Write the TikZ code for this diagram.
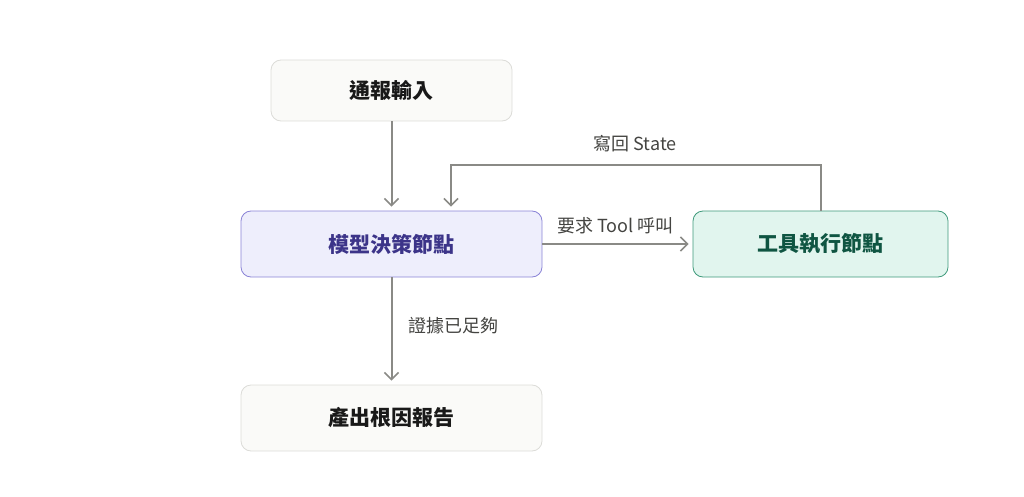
\documentclass[tikz,border=0pt]{standalone}
\usepackage{fontspec}
\setmainfont{Noto Sans CJK TC}
\usetikzlibrary{arrows.meta}
\definecolor{boxgray}{HTML}{FAFAF8}
\definecolor{linegray}{HTML}{DCDCD8}
\definecolor{modelfill}{HTML}{EEEEFC}
\definecolor{modelline}{HTML}{8A83D6}
\definecolor{modeltext}{HTML}{3C3489}
\definecolor{toolfill}{HTML}{E1F5EE}
\definecolor{toolline}{HTML}{3F9A7B}
\definecolor{tooltext}{HTML}{0F5542}
\definecolor{arrowgray}{HTML}{8A8A86}
\definecolor{labelgray}{HTML}{444441}
\tikzset{
 box/.style={draw=linegray,fill=boxgray,rounded corners=10pt,line width=0.8pt,
  minimum height=61pt,font=\fontsize{21}{24}\selectfont\bfseries,text=black!90},
 flow/.style={draw=arrowgray,line width=2pt,shorten >=4pt,
  -{Straight Barb[length=7pt,width=14pt,line width=1.6pt]}},
 lbl/.style={font=\fontsize{18}{21}\selectfont,text=labelgray}
}
\begin{document}
\begin{tikzpicture}[x=1pt,y=-1pt]
% khung ảnh
\useasboundingbox (0,0) rectangle (1024,497);
% các nút
\node[box,minimum width=241pt] (input) at (391.5,90.5) {通報輸入};
\node[box,minimum width=301pt,minimum height=66pt,draw=modelline,fill=modelfill,text=modeltext] (model) at (391.5,244) {模型決策節點};
\node[box,minimum width=255pt,minimum height=66pt,draw=toolline,fill=toolfill,text=tooltext] (tool) at (820.5,244) {工具執行節點};
\node[box,minimum width=301pt,minimum height=66pt] (report) at (391.5,418) {產出根因報告};
% các mũi tên
\draw[flow] (input) -- (model);
\draw[flow] (model) -- node[lbl,above=6pt,xshift=-2pt]{要求 Tool 呼叫} (tool);
\draw[flow,rounded corners=0pt] (tool.north) -- ++(0,-46) coordinate (back)
 -| ([xshift=59.5pt]model.north);
\node[lbl] (backlbl) at (635,144) {寫回 State};
\draw[flow] (model) -- node[lbl,right=13pt,pos=0.45]{證據已足夠} (report);
\end{tikzpicture}
\end{document}
